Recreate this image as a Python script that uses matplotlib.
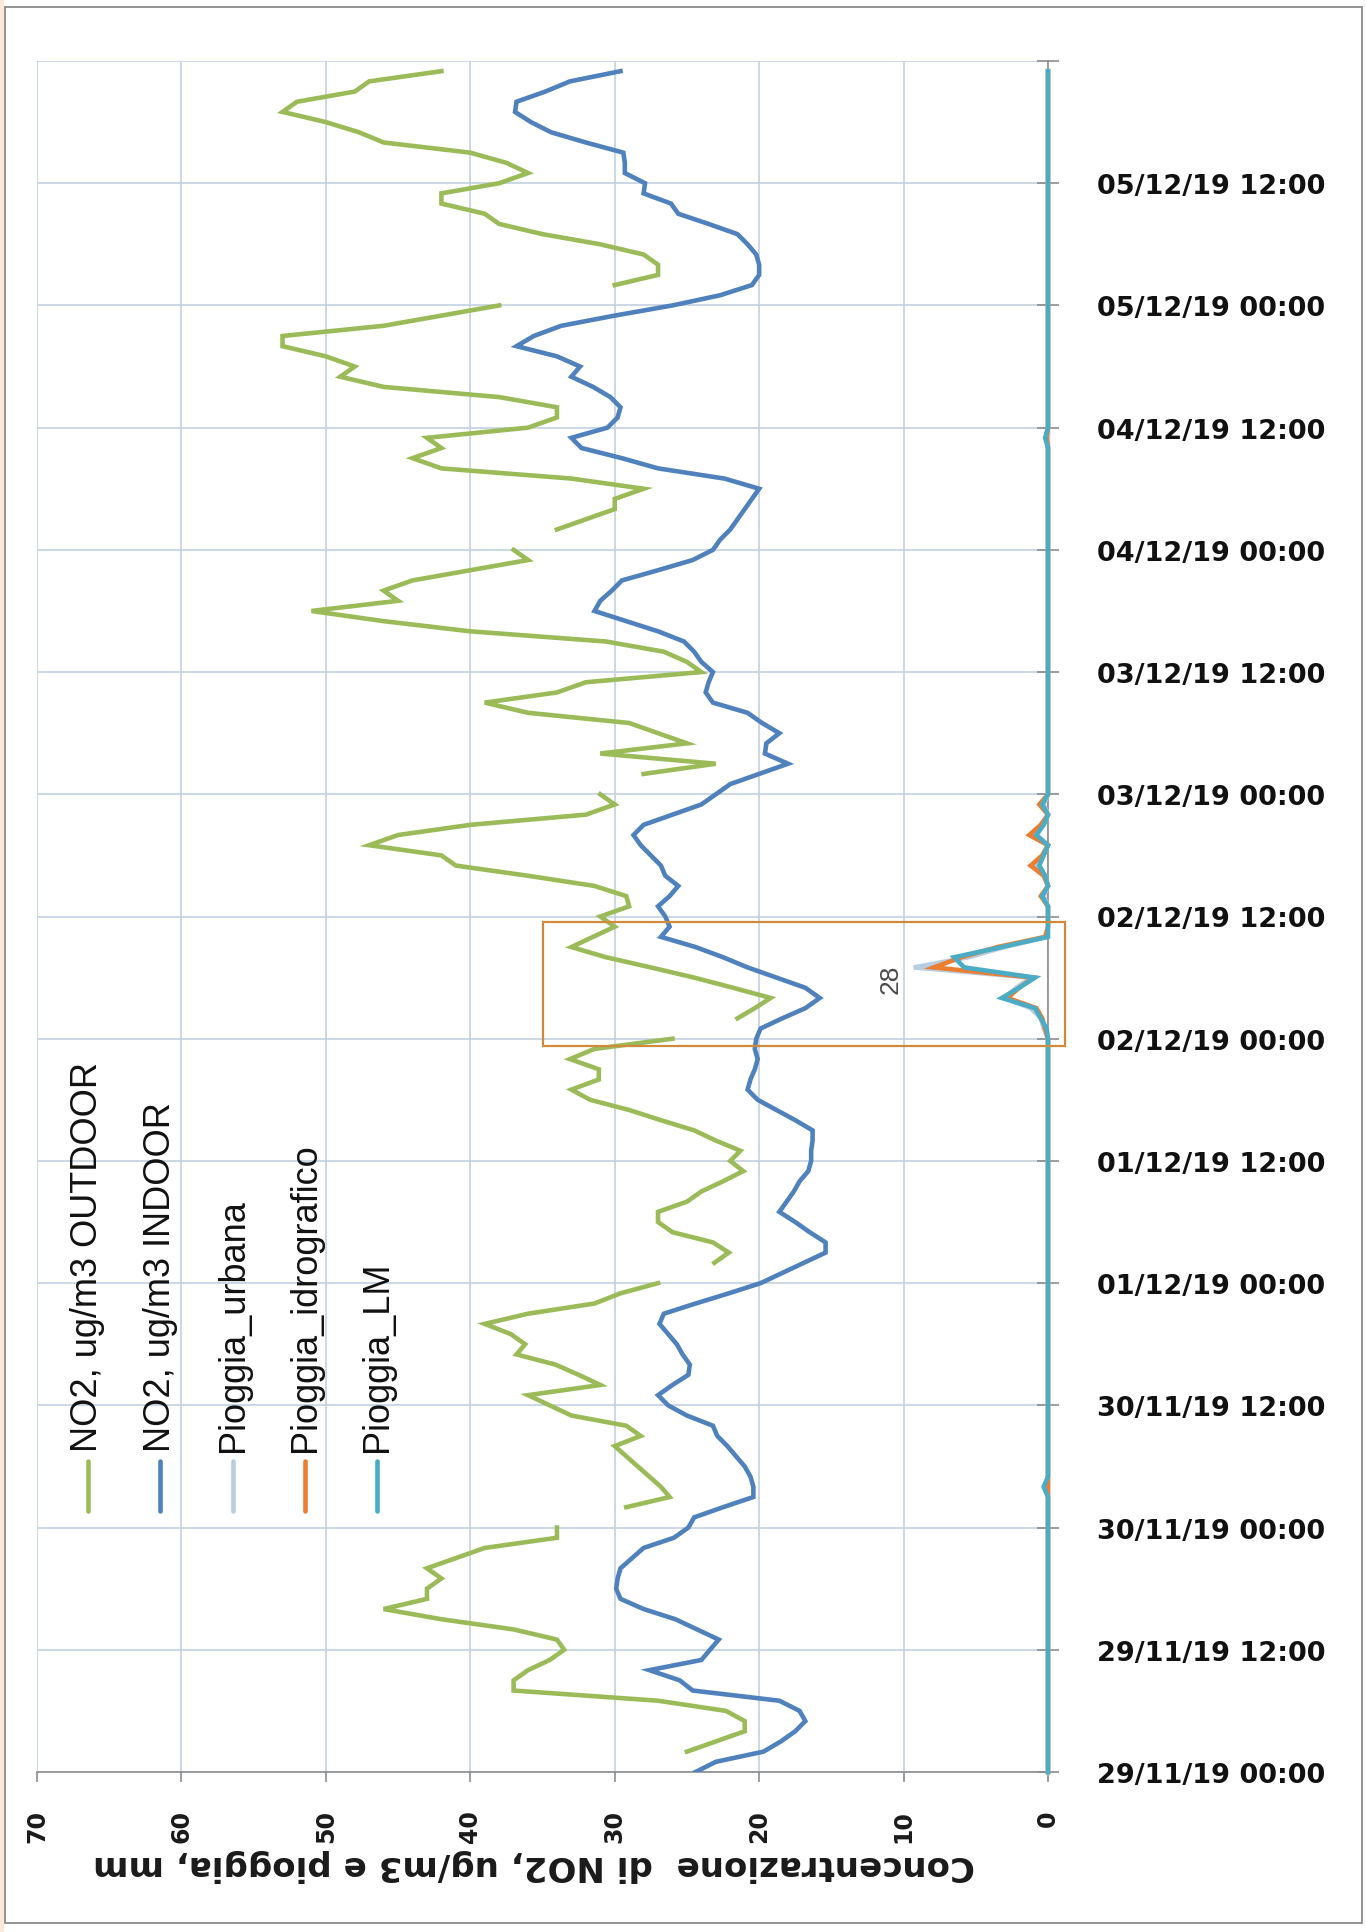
"""
NO2 indoor/outdoor e pioggia, 29/11/19 - 05/12/19, grafico ruotato.
"""

import numpy as np
import matplotlib.pyplot as plt
from matplotlib.lines import Line2D
from matplotlib.patches import Rectangle

nan = np.nan

# ore dall'inizio (29/11/19 00:00), dato orario
hours = np.arange(168)

# NO2 esterno, ug/m3 (nan = dato mancante)
no2_outdoor = [
    nan, nan, 25, 23, 21, 21, 22.3, 27, 37, 37, 36, 34.5, 33.5, 34, 37, 42,
    46, 43, 43, 42, 43, 41, 39, 34, 34, nan, 29.2, 26.2, 26.8, 27.6, 28.4, 29.2,
    30, 28.2, 29.2, 33, 34.5, 36, 31, 32.5, 34.1, 36.8, 36.2, 37.2, 39, 36, 31.4, 29.6,
    27, nan, 23.1, 22.1, 23.2, 26, 27, 27, 25, 24, 22.5, 21.1, 22, 21.3, 23, 24.5,
    26.8, 29, 31.7, 33, 31.1, 31.1, 33.1, 31.4, 26, nan, 21.5, 20.3, 19.2, 21.8, 24.5, 27.5,
    30.6, 33, 31.5, 30, 31, 29, 29.2, 31.4, 36, 41, 42, 47, 45, 40, 32, 30,
    31, nan, 28, 23, 31, 25, 27, 29, 36, 39, 34, 32, 24, 25, 26.6, 30.6,
    40, 46, 51, 45, 46, 44, 40, 36, 37, nan, 34, 32, 30, 30, 28, 33,
    42, 44, 42, 43, 36, 34, 34, 38, 46, 49, 48, 50, 53, 53, 46, 42,
    38, nan, 30, 27, 27, 28, 31, 35, 38, 39, 42, 42, 38, 36, 37.5, 40,
    46, 47.7, 50, 53, 52, 48, 47, 42,
]

# NO2 interno, ug/m3
no2_indoor = [
    24.4, 23, 19.7, 18.5, 17.5, 16.8, 17.2, 18.6, 24.6, 25.5, 27.6, 24, 23.4, 22.8, 24.3, 25.8,
    28, 29.6, 29.9, 29.8, 29.6, 28.8, 28, 25.9, 24.9, 24.5, 22.5, 20.4, 20.4, 20.6, 21, 21.6,
    22.2, 22.9, 23.2, 25, 26.3, 27, 26, 24.9, 24.8, 25.3, 25.7, 26.3, 26.9, 26.6, 24.4, 22.1,
    19.9, 18.4, 16.9, 15.4, 15.4, 16.5, 17.5, 18.6, 18.1, 17.6, 17.2, 16.6, 16.4, 16.4, 16.3, 16.3,
    17.5, 18.8, 20.1, 20.8, 20.6, 20.3, 20.1, 20.3, 20.2, 19.9, 18.4, 16.8, 15.8, 16.8, 18.8, 20.8,
    22.5, 24.4, 26.8, 26.2, 26.5, 27, 26.2, 25.6, 26.5, 26.8, 27.5, 28.2, 28.7, 28, 26, 24,
    23, 22, 20, 18, 19.6, 19.5, 18.6, 19.8, 20.8, 23.2, 23.7, 23.5, 23.2, 24, 24.5, 25.2,
    27, 29.2, 31.4, 31, 30.2, 29.5, 27, 24.6, 23.2, 22.7, 22, 21.5, 21, 20.5, 20, 22.4,
    27, 29.5, 32.3, 33, 30.5, 29.8, 29.6, 30.3, 31.5, 33, 32.4, 34, 36.8, 35.6, 33.7, 30,
    26, 22.7, 20.5, 20, 20, 20.2, 20.8, 21.5, 23.5, 25.6, 26.1, 28, 27.9, 29.3, 29.3, 29.4,
    32, 34.4, 35.8, 36.9, 36.8, 34.8, 33.1, 29.6,
]

# pioggia, mm: solo le ore con valore diverso da zero
rain_hours = [28, 73, 74, 75, 76, 77, 78, 79, 80, 81, 82, 86, 88, 89, 90, 92, 93, 95, 131]
rain_urbana = [0.0, 0.3, 0.5, 1.2, 3.0, 2.2, 1.2, 9.3, 5.5, 3.0, 0.1, 0.3, 0.2, 0.8, 0.3, 0.9, 0.3, 0.3, 0.0]
rain_idro = [0.0, 0.2, 0.4, 0.8, 2.8, 2.0, 1.0, 7.9, 6.0, 3.5, 0.2, 0.5, 0.3, 1.2, 0.4, 1.3, 0.5, 0.6, 0.1]
rain_lm = [0.3, 0.1, 0.5, 0.9, 3.2, 2.0, 0.9, 5.8, 6.5, 3.2, 0.0, 0.4, 0.2, 0.6, 0.3, 0.8, 0.3, 0.4, 0.2]

# etichette dell'asse dei tempi, ogni 12 ore
date_labels = ['29/11/19 00:00', '29/11/19 12:00', '30/11/19 00:00', '30/11/19 12:00',
               '01/12/19 00:00', '01/12/19 12:00', '02/12/19 00:00', '02/12/19 12:00',
               '03/12/19 00:00', '03/12/19 12:00', '04/12/19 00:00', '04/12/19 12:00',
               '05/12/19 00:00', '05/12/19 12:00']
value_ticks = [0, 10, 20, 30, 40, 50, 60, 70]

# evento di pioggia evidenziato (ore) e nota
event_hours = (71.3, 83.5)
event_note = '28'

series_names = ['NO2, ug/m3 OUTDOOR', 'NO2, ug/m3 INDOOR', 'Pioggia_urbana',
                'Pioggia_idrografico', 'Pioggia_LM']
colors = ['#9BBB59', '#4F81BD', '#B9CDE0', '#ED7D31', '#4BACC6']


def full_series(idx, vals):
    s = np.zeros(len(hours))
    s[idx] = vals
    return s


W, H = 1366, 1933
fig = plt.figure(figsize=(W / 100, H / 100), dpi=100)
fig.patch.set_facecolor('white')


def fx(px):
    return px / W


def fy(py):
    return 1 - py / H


ax = fig.add_axes([fx(37), fy(1773), fx(1048) - fx(37), fy(62) - fy(1773)])

lw = 3.3
ax.plot(no2_outdoor, hours, color=colors[0], lw=lw, solid_joinstyle='miter', zorder=3)
ax.plot(no2_indoor, hours, color=colors[1], lw=lw, solid_joinstyle='miter', zorder=4)
for vals, c, z in zip([rain_urbana, rain_idro, rain_lm], colors[2:], [5, 6, 7]):
    ax.plot(full_series(rain_hours, vals), hours, color=c, lw=lw,
            solid_joinstyle='miter', zorder=z, clip_on=False)

ax.set_xlim(70, 0)
ax.set_ylim(0, 168)

# griglia
grid_c = '#C3D1E2'
ax.set_xticks(value_ticks)
ax.set_yticks(range(0, 169, 12))
ax.grid(True, color=grid_c, lw=1.2, zorder=0)
ax.set_axisbelow(True)

for side in ['left', 'top']:
    ax.spines[side].set_visible(False)
ax.spines['bottom'].set_color('#8C8C8C')
ax.spines['bottom'].set_linewidth(1.2)
ax.spines['right'].set_color('#8C8C8C')
ax.spines['right'].set_linewidth(1.2)

# asse dei valori (in basso, testo ruotato)
ax.set_xticklabels([str(v) for v in value_ticks], rotation=90,
                   fontsize=17, fontweight='bold', family='DejaVu Sans')
ax.tick_params(axis='x', direction='out', length=7, width=1.2, color='#8C8C8C',
               pad=20, labelcolor='#1a1a1a')
ax.set_xlabel('Concentrazione  di NO2, ug/m3 e pioggia, mm', rotation=180,
              fontsize=24.5, fontweight='bold', family='DejaVu Sans', color='#1a1a1a',
              ha='center', va='center')
ax.xaxis.set_label_coords((534 - 37) / 1011, (1773 - 1866) / 1711)

# asse dei tempi (a destra)
ax.yaxis.tick_right()
ax.set_yticklabels(date_labels + [''], fontsize=19.5, fontweight='bold',
                   family='DejaVu Sans')
ax.tick_params(axis='y', direction='inout', length=16, width=1.2, color='#8C8C8C',
               pad=27, labelcolor='#111111')

# riquadro dell'evento di pioggia
ax.add_patch(Rectangle((35, event_hours[0]), -36.2, event_hours[1] - event_hours[0],
                       fill=False, ec='#D08A3C', lw=1.6, clip_on=False, zorder=8))
ax.text(10.9, 77.9, event_note, rotation=90, ha='center', va='center',
        fontsize=19, color='#4a4a4a', family='Liberation Sans', zorder=9)

# legenda, verticale
leg_x = [88, 160, 233, 305, 377]
for name, c, x in zip(series_names, colors, leg_x):
    fig.add_artist(Line2D([fx(x), fx(x)], [fy(1462), fy(1512)], color=c, lw=lw,
                          solid_capstyle='round'))
    fig.text(fx(x), fy(1452), name, rotation=90, ha='center', va='bottom',
             fontsize=26, family='Liberation Sans', color='#111111')

# cornice esterna
fig.add_artist(Rectangle((0, 0), fx(4), 1, transform=fig.transFigure,
                         fc='#FCE9DA', ec='none'))
fig.add_artist(Rectangle((fx(5), fy(1924)), fx(1362) - fx(5), fy(8) - fy(1924),
                         transform=fig.transFigure, fill=False, ec='#8A8A8A', lw=1.3))

plt.savefig('out.png', dpi=100)
